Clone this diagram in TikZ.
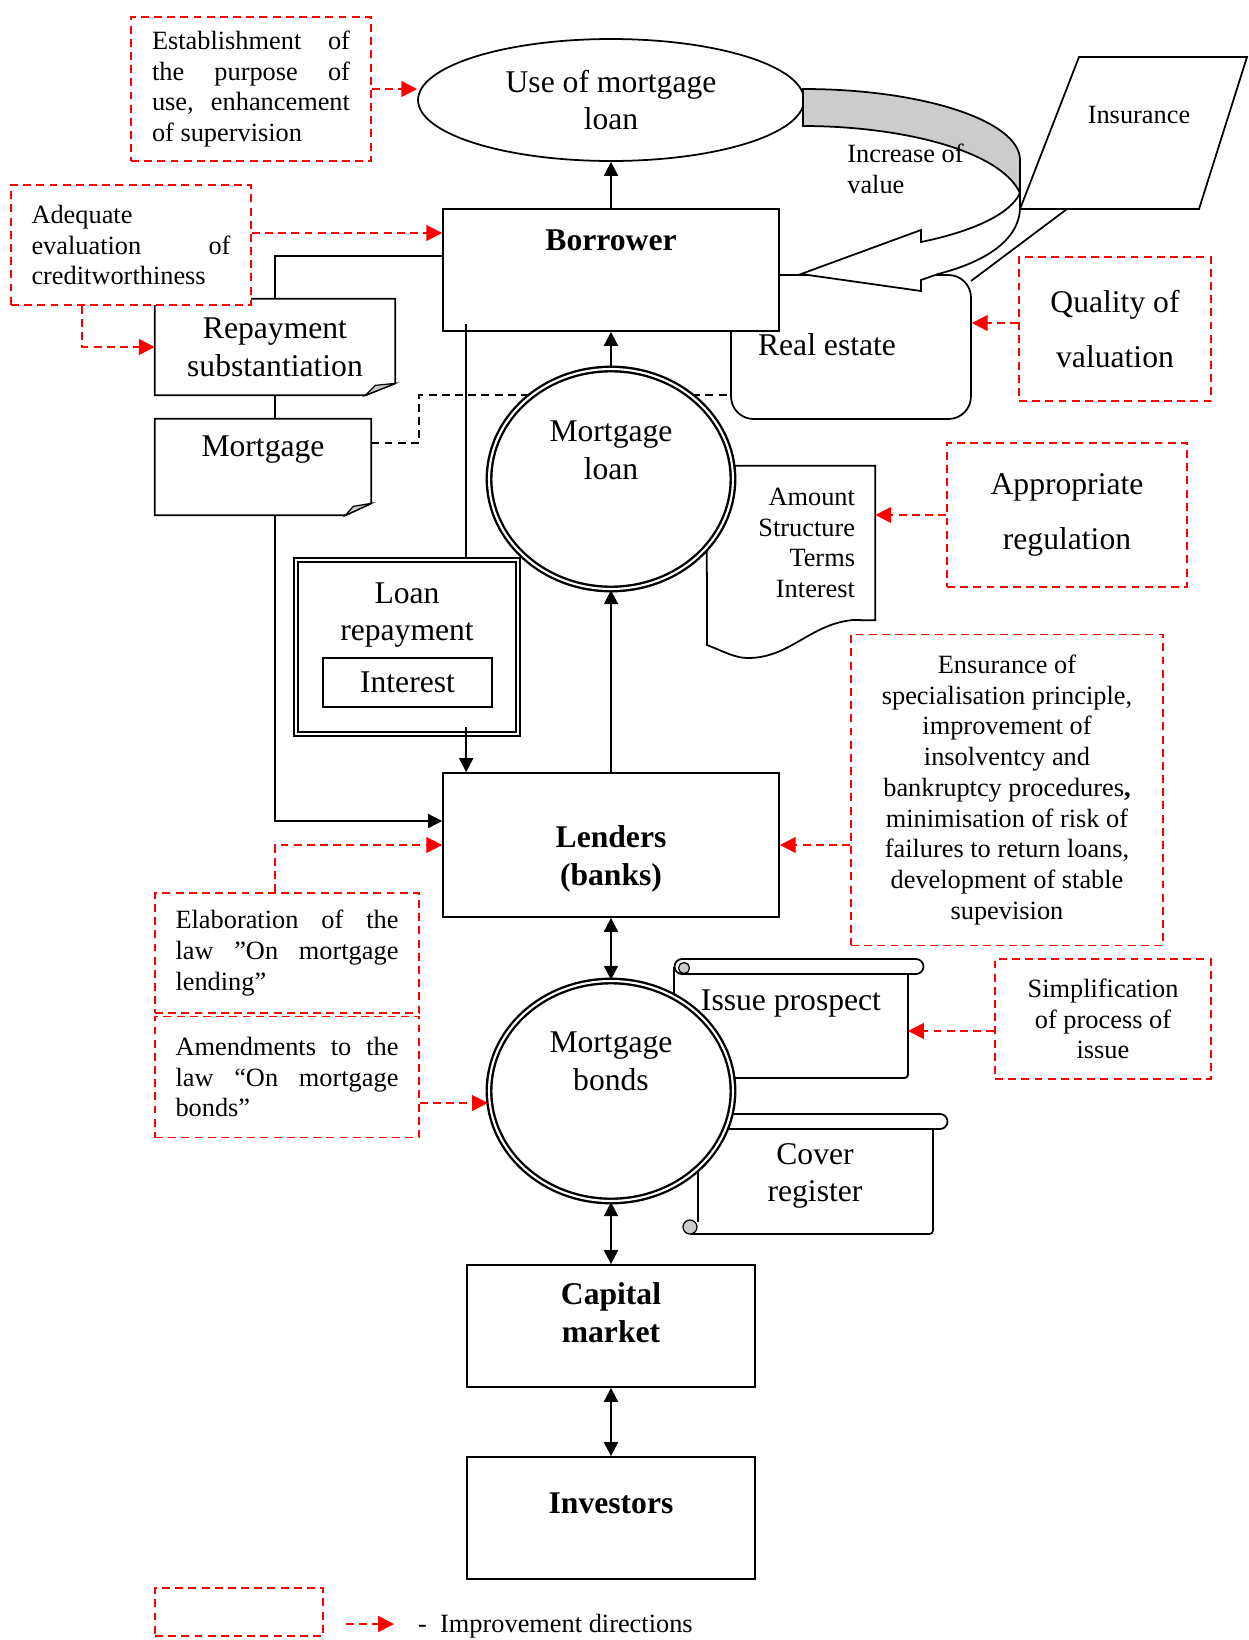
\documentclass[tikz,border=0pt]{standalone}
\usepackage{fontspec}
\setmainfont{Liberation Serif}
\usetikzlibrary{shapes.geometric,arrows.meta,calc}
\setlength{\parindent}{0pt}

\begin{document}
\begin{tikzpicture}[x=0.02cm, y=-0.02cm,
    block/.style={draw, line width=1pt, fill=white, inner sep=0pt},
    note/.style={draw=red, line width=1pt, dash pattern=on 4.5pt off 3pt, fill=white, inner sep=0pt},
    oval/.style={draw, ellipse, line width=1pt, fill=white, inner sep=0pt},
    ring/.style={oval, double, line width=1.35pt, double distance=1.2pt},
    edge/.style={-{Triangle[length=8pt,width=8pt]}, line width=1pt},
    dedge/.style={{Triangle[length=8pt,width=8pt]}-{Triangle[length=8pt,width=8pt]}, line width=1pt},
    redge/.style={-{Triangle[length=9pt,width=9pt]}, draw=red, line width=1pt, dash pattern=on 4.5pt off 3pt},
    dline/.style={line width=1pt, dash pattern=on 4.5pt off 3pt},
    small/.style={font=\fontsize{15}{17.5}\selectfont},
    big/.style={font=\fontsize{18}{21.5}\selectfont},
    bigb/.style={font=\fontsize{18}{21.5}\selectfont\bfseries},
    wide/.style={font=\fontsize{18}{31}\selectfont},
]
\useasboundingbox (0,0) rectangle (1248,1640);

% Top: use of the loan
\node[note, small, minimum width=4.8cm, minimum height=2.88cm, text width=3.96cm, align=justify] (estab) at (251,89) {Establishment\hfill of\\ the\hfill purpose\hfill of\\ use,\hfill enhancement\\ of supervision};
\node[oval, big, align=center, minimum width=7.72cm, minimum height=2.44cm] (use) at (611,100) {Use of mortgage\\loan};

% Documents on the left
\node[inner sep=0pt, big, align=center, minimum width=4.8cm, minimum height=1.92cm] (rep) at (275,347) {Repayment\\substantiation};
\draw[line width=1pt] (rep.north west) -- (rep.north east) -- ($(rep.south east)+(0,-12)$) -- ($(rep.south east)+(-30,0)$) -- (rep.south west) -- cycle;
\draw[line width=0.7pt, fill=gray!40] ($(rep.south east)+(0,-12)$) -- ($(rep.south east)+(-20,-10)$) -- ($(rep.south east)+(-30,0)$) -- cycle;

\node[inner sep=0pt, minimum width=4.32cm, minimum height=1.92cm] (mort) at (263,467) {};
\draw[line width=1pt] (mort.north west) -- (mort.north east) -- ($(mort.south east)+(0,-12)$) -- ($(mort.south east)+(-26,0)$) -- (mort.south west) -- cycle;
\draw[line width=0.7pt, fill=gray!40] ($(mort.south east)+(0,-12)$) -- ($(mort.south east)+(-18,-9)$) -- ($(mort.south east)+(-26,0)$) -- cycle;
\node[big] (morttxt) at (263,450) {Mortgage};

\node[note, small, minimum width=4.8cm, minimum height=2.4cm, text width=3.98cm, align=justify] (adeq) at (131,245) {Adequate\\ evaluation\hfill of\\ creditworthiness};

% Borrower and real estate
\node[block, rounded corners=0.45cm, minimum width=4.8cm, minimum height=2.88cm] (realest) at (851,347) {};
\node[big] (realtxt) at (827,345) {Real estate};
\node[block, minimum width=6.72cm, minimum height=2.44cm] (borrower) at (611,270) {};
\node[bigb] (borrowertxt) at (611,240) {Borrower};

% Increase of value arrow
\draw[line width=1pt, fill=gray!40] (803,89) .. controls (923,89) and (1020,121) .. (1020,160) -- (1020,193) .. controls (1000,150) and (900,126) .. (803,126) -- cycle;
\draw[line width=1pt, fill=white] (1020,193) .. controls (1010,215) and (970,232) .. (921,242) -- (921,230) -- (801,274) -- (921,291) -- (921,280) -- (938,274) .. controls (985,262) and (1020,240) .. (1020,207) -- cycle;
\node[small, align=left, anchor=west, inner sep=0pt] (incrtxt) at (847,169) {Increase of\\value};

% Insurance
\draw[line width=1pt, fill=white] (1020,209) -- (1079,57) -- (1247,57) -- (1199,209) -- cycle;
\node[small] (insurtxt) at (1139,115) {Insurance};
\coordinate (insurfoot) at (1067,209);
\coordinate (realcorner) at (971,281);
\draw[line width=1pt] (insurfoot) -- (realcorner);

\node[note, wide, align=center, minimum width=3.84cm, minimum height=2.88cm] (qual) at (1115,329) {Quality of\\valuation};

% Mortgage loan
\node[inner sep=0pt, small, text width=2.56cm, align=right, minimum width=3.36cm, minimum height=3.08cm] (amount) at (791,543) {Amount\\Structure\\Terms\\Interest\\[6pt]};
\draw[line width=1pt] (amount.north west) -- (amount.north east) -- (amount.south east) -- (853,620) .. controls (810,624) and (790,658) .. (748,658) .. controls (735,658) and (725,652) .. (707,645) -- cycle;
\draw[dline] ($(mort.east)+(0,-24)$) -- ++(48,0) |- ($(realest.west)+(0,48)$);
\node[ring, minimum width=4.88cm, minimum height=4.4cm] (mloan) at (611,479) {};
\node[big, align=center] (mloantxt) at (611,450) {Mortgage\\loan};

\node[note, wide, align=center, minimum width=4.8cm, minimum height=2.88cm] (approp) at (1067,515) {Appropriate\\regulation};

% Loan repayment
\node[block, double, line width=1.2pt, double distance=1.5pt, minimum width=4.44cm, minimum height=3.48cm] (loanrep) at (407,647) {};
\node[big, align=center] (loanreptxt) at (407,615) {Loan\\repayment};
\node[block, big, minimum width=3.38cm, minimum height=0.98cm] (interest) at (407.5,682.5) {Interest};

% Lenders
\node[block, minimum width=6.72cm, minimum height=2.88cm] (lenders) at (611,845) {};
\node[bigb, align=center] (lenderstxt) at (611,859) {Lenders\\(banks)};

\node[note, small, align=center, minimum width=6.24cm, minimum height=6.22cm] (ensur) at (1007,790) {Ensurance of\\specialisation principle,\\improvement of\\insolventcy and\\bankruptcy procedures\textbf{,}\\minimisation of risk of\\failures to return loans,\\development of stable\\supevision};

\node[note, small, minimum width=5.28cm, minimum height=2.4cm, text width=4.46cm, align=justify] (elab) at (287,953) {Elaboration\hfill of\hfill the\\ law\hfill ”On\hfill mortgage\\ lending”};
\node[note, small, minimum width=5.28cm, minimum height=2.42cm, text width=4.46cm, align=justify] (amend) at (287,1077) {Amendments\hfill to\hfill the\\ law\hfill “On\hfill mortgage\\ bonds”};

% Scrolls
\draw[line width=1pt, rounded corners=2pt] (674,967) -- (674,1078) -- (908,1078) -- (908,974);
\draw[line width=1pt, fill=white] (682,959) -- (916,959) arc[start angle=90, end angle=-90, radius=0.15cm] -- (682,974) arc[start angle=270, end angle=90, radius=0.15cm] -- cycle;
\draw[line width=0.7pt, fill=gray!40] (684,968) circle[radius=0.11cm];
\node[big] (issuetxt) at (791,1003) {Issue prospect};
\coordinate (issueR) at (908,1031);

\node[inner sep=0pt, big, align=center, minimum width=4.7cm, minimum height=2.1cm] (cover) at (815,1176) {Cover\\register};
\draw[line width=1pt] (698,1129) -- (698,1222);
\draw[line width=1pt, rounded corners=2pt] (690,1234) -- (933,1234) -- (933,1129);
\draw[line width=1pt, fill=white] (700,1114) -- (940,1114) arc[start angle=90, end angle=-90, radius=0.15cm] -- (700,1129);
\draw[line width=0.7pt, fill=gray!40] (690,1227) circle[radius=0.14cm];

\node[note, small, align=center, minimum width=4.32cm, minimum height=2.4cm] (simp) at (1103,1019) {Simplification\\of process of\\issue};

% Mortgage bonds, market, investors
\node[ring, minimum width=4.88cm, minimum height=4.4cm] (mbond) at (611,1091) {};
\node[big, align=center] (mbondtxt) at (611,1061) {Mortgage\\bonds};
\node[block, minimum width=5.76cm, minimum height=2.44cm] (capital) at (611,1326) {};
\node[bigb, align=center] (capitaltxt) at (611,1313) {Capital\\market};
\node[block, minimum width=5.76cm, minimum height=2.44cm] (investors) at (611,1518) {};
\node[bigb] (investorstxt) at (611,1503) {Investors};

% Connections
\draw[edge] (borrower.north) -- (use.south);
\draw[edge] (mloan.north) -- (borrower.south);
\draw[edge] (lenders.north) -- (mloan.south);
\draw[line width=1pt] ($(borrower.west)+(0,-14)$) -| (rep.north);
\draw[line width=1pt] (rep.south) -- (rep.south |- mort.north);
\coordinate (mleft) at (rep.south |- mort.south);
\draw[edge] (mleft) |- ($(lenders.west)+(0,-24)$);
\coordinate (bl) at ($(borrower.south west)+(24,-8)$);
\draw[line width=1pt] (bl) -- (bl |- loanrep.north);
\coordinate (lr) at (bl |- loanrep.south);
\draw[edge] ($(lr)+(0,-8)$) -- (bl |- lenders.north);
\draw[dedge] (lenders.south) -- (mbond.north);
\draw[dedge] (mbond.south) -- (capital.north);
\draw[dedge] (capital.south) -- (investors.north);

% Improvement directions
\draw[redge] (estab.east) -- (estab.east -| use.west);
\coordinate (ad) at ($(adeq.east)+(0,-12)$);
\draw[redge] (ad) -- (ad -| borrower.west);
\draw[redge] ($(adeq.south west)+(72,0)$) |- (rep.west);
\coordinate (qa) at ($(qual.west)+(0,-6)$);
\draw[redge] (qa) -- (qa -| realest.east);
\draw[redge] (approp.west) -- (approp.west -| amount.east);
\draw[redge] (ensur.west |- lenders.east) -- (lenders.east);
\draw[redge] ($(elab.north)+(-12,0)$) |- (lenders.west);
\coordinate (am) at ($(amend.east)+(0,26)$);
\draw[redge] (am) -- (am -| mbond.west);
\draw[redge] (simp.west |- issueR) -- (issueR);

% Legend
\node[note, minimum width=3.36cm, minimum height=0.96cm] (legbox) at (239,1612) {};
\coordinate (lega) at (346,1624);
\coordinate (legb) at (394,1624);
\draw[redge] (lega) -- (legb);
\node[small, anchor=west] (legtxt) at (412,1626) {-\ \ Improvement directions};

\end{tikzpicture}
\end{document}
